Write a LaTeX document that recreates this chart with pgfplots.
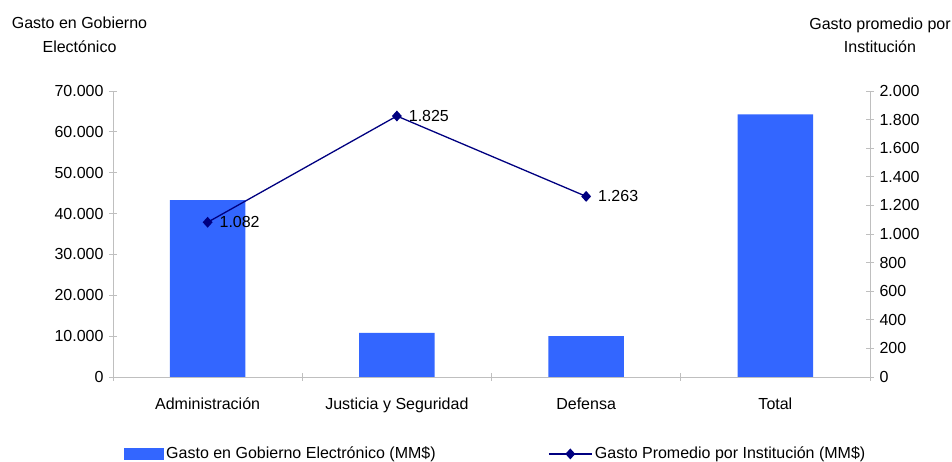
\documentclass[border=0pt]{standalone}
\usepackage{pgfplots}
\pgfplotsset{compat=1.18}
\usepackage{fontspec}
\setmainfont{Liberation Sans}
\definecolor{barblue}{HTML}{3366FF}
\definecolor{navyline}{HTML}{000080}
\definecolor{axgray}{HTML}{BFBFBF}
\begin{document}
\fontsize{16pt}{19pt}\selectfont
\begin{tikzpicture}
\path[use as bounding box] (0,0) rectangle (952pt,462pt);
\pgfplotsset{
  common/.style={
    scale only axis, width=757pt, height=286pt,
    at={(113pt,85pt)}, anchor=south west,
    xmin=-0.5, xmax=3.5,
    /pgf/number format/.cd, fixed, precision=0, 1000 sep={.}, assume math mode=true, /pgfplots/.cd,
    scaled y ticks=false,
    tick align=center,
    major tick length=8pt,
    axis line style={axgray, line width=0.8pt},
    tick style={axgray, line width=0.8pt},
  }
}
\begin{axis}[common,
  axis x line*=bottom, axis y line*=left,
  ymin=0, ymax=70000, ytick distance=10000,
  xtick={-0.5,0.5,1.5,2.5,3.5}, xticklabels={},
  extra x ticks={0,1,2,3},
  extra x tick labels={Administración, Justicia y Seguridad, Defensa, Total},
  extra x tick style={major tick length=0pt, xticklabel style={yshift=-15pt}},
  legend columns=2,
  legend style={at={(axis description cs:0.0139,-0.269)}, anchor=west,
    draw=none, fill=none, inner sep=0pt,
    nodes={inner xsep=2.5pt, inner ysep=1pt},
    /tikz/every even column/.append style={column sep=110pt}},
  legend cell align=left,
]
\addplot[ybar, fill=barblue, draw=none, bar width=0.4,
  legend image code/.code={\fill[barblue] (0pt,-6pt) rectangle (40pt,6pt);}]
  coordinates {(0,43300) (1,10800) (2,10000) (3,64300)};
\addlegendentry{Gasto en Gobierno Electrónico (MM\$)}
\addlegendimage{navyline, line width=1.3pt, mark=diamond*, mark size=4.5pt, mark options={xscale=1.2},
  legend image code/.code={\draw[mark repeat=2, mark phase=2] plot coordinates {(0pt,0pt) (21.5pt,0pt) (43pt,0pt)};}}
\addlegendentry{Gasto Promedio por Institución (MM\$)}
\end{axis}
\begin{axis}[common,
  axis y line*=right, axis x line=none,
  ymin=0, ymax=2000, ytick distance=200,
]
\addplot[navyline, line width=1.3pt, mark=diamond*, mark size=4.5pt, mark options={xscale=1.2},
  nodes near coords, nodes near coords style={anchor=west, xshift=6pt, text=black}]
  coordinates {(0,1082) (1,1825) (2,1263)};
\end{axis}
\node[anchor=base] at (79.5pt,433pt) {Gasto en Gobierno};
\node[anchor=base] at (79.5pt,409pt) {Electónico};
\node[anchor=base] at (880pt,432pt) {Gasto promedio por};
\node[anchor=base] at (880pt,409pt) {Institución};
\end{tikzpicture}
\end{document}
